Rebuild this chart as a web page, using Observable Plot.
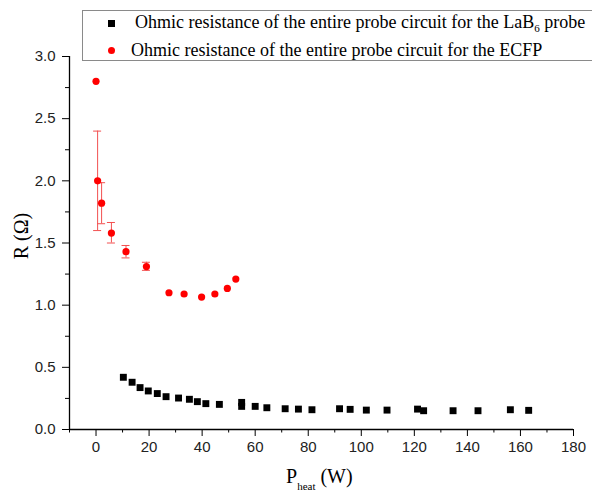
<!DOCTYPE html>
<html>
<head>
<meta charset="utf-8">
<script src="https://cdn.jsdelivr.net/npm/d3@7"></script>
<script src="https://cdn.jsdelivr.net/npm/@observablehq/plot@0.6"></script>
<style>
  html, body { margin: 0; padding: 0; background: white; }
  #wrap { position: relative; width: 592px; height: 493px; overflow: hidden; background: white; }
  #chart { position: absolute; left: 0; top: 0; }
  .serif { font-family: "Liberation Serif", "Times New Roman", Times, serif; color: #000; }
  #legend { position: absolute; left: 82px; top: 10px; width: 540px; height: 49px; border: 1px solid #8a8a8a; background: white; }
  .ltext { position: absolute; white-space: nowrap; font-size: 18px; line-height: 18px; }
  .ltext sub { font-size: 11px; vertical-align: -4px; line-height: 0; }
  #sq { position: absolute; left: 25px; top: 9px; width: 7px; height: 7px; background: #000; }
  #dotm { position: absolute; left: 25px; top: 36px; width: 7px; height: 7px; border-radius: 50%; background: #ff0000; }
  #xlabel { position: absolute; left: 286px; top: 465px; font-size: 20px; white-space: nowrap; }
  #xlabel sub { font-size: 11px; vertical-align: -7px; line-height: 0; }
  #ylabel { position: absolute; left: 21px; top: 236px; font-size: 20px; white-space: nowrap; transform: translate(-50%, -50%) rotate(-90deg); }
</style>
</head>
<body>
<div id="wrap">
  <div id="chart"></div>
  <div id="legend" class="serif">
    <div id="sq"></div>
    <div class="ltext" style="left:52px; top:2px;">Ohmic resistance of the entire probe circuit for the LaB<sub>6</sub> probe</div>
    <div id="dotm"></div>
    <div class="ltext" style="left:48px; top:30px;">Ohmic resistance of the entire probe circuit for the ECFP</div>
  </div>
  <div id="xlabel" class="serif">P<sub>heat</sub> (W)</div>
  <div id="ylabel" class="serif">R (Ω)</div>
</div>
<script>
// LaB6 probe (black squares)
const lab6X = [10.3, 13.6, 16.6, 19.7, 23.1, 26.4, 31.1, 35.2, 38.2, 41.4, 46.5, 54.9, 54.9, 60.0, 64.4, 71.3, 76.3, 81.4, 91.8, 95.8, 101.9, 109.7, 121.2, 123.5, 134.6, 144.0, 156.2, 163.1];
const lab6Y = [0.42, 0.38, 0.337, 0.31, 0.289, 0.264, 0.253, 0.243, 0.224, 0.208, 0.202, 0.218, 0.186, 0.186, 0.175, 0.167, 0.164, 0.159, 0.167, 0.162, 0.156, 0.156, 0.164, 0.151, 0.151, 0.151, 0.159, 0.154];

// ECFP (red circles) with error bars
const ecfpX = [0, 0.6, 2.1, 5.8, 11.3, 19.0, 27.5, 33.2, 39.8, 44.8, 49.5, 52.7];
const ecfpY = [2.80, 2.00, 1.82, 1.58, 1.43, 1.31, 1.10, 1.09, 1.065, 1.09, 1.135, 1.21];
const ecfpLo = [null, 1.60, 1.655, 1.50, 1.38, 1.28, null, null, null, null, null, null];
const ecfpHi = [null, 2.40, 1.985, 1.665, 1.48, 1.345, null, null, null, null, null, null];

const xMajor = [0, 20, 40, 60, 80, 100, 120, 140, 160, 180];
const xMinor = [-10, 10, 30, 50, 70, 90, 110, 130, 150, 170];
const yMajor = [0, 0.5, 1.0, 1.5, 2.0, 2.5, 3.0];
const yMinor = [0.25, 0.75, 1.25, 1.75, 2.25, 2.75];

const lab6 = lab6X.map((x, i) => ({x, y: lab6Y[i]}));
const ecfp = ecfpX.map((x, i) => ({x, y: ecfpY[i], lo: ecfpLo[i], hi: ecfpHi[i]}));
const ecfpErr = ecfp.filter(d => d.lo != null);

const errColor = "#f25050";

const chart = Plot.plot({
  width: 592,
  height: 493,
  marginLeft: 69,
  marginRight: 19,
  marginTop: 56,
  marginBottom: 64,
  x: {domain: [-10, 180], label: null},
  y: {domain: [0, 3], label: null},
  style: {fontFamily: "'Liberation Sans', Arial, sans-serif", fontSize: "15px", color: "#222", background: "transparent"},
  marks: [
    Plot.axisX({ticks: xMinor, tickSize: 3.5, tickFormat: () => "", label: null, stroke: "#000"}),
    Plot.axisX({ticks: xMajor, tickSize: 7, tickPadding: 5, tickFormat: d => String(d), label: null, stroke: "#000"}),
    Plot.axisY({ticks: yMinor, tickSize: 4, tickFormat: () => "", label: null, stroke: "#000"}),
    Plot.axisY({ticks: yMajor, tickSize: 7, tickPadding: 7, tickFormat: d3.format(".1f"), label: null, stroke: "#000"}),
    Plot.ruleY([0], {stroke: "#000", strokeWidth: 1.3}),
    Plot.ruleX([-10], {stroke: "#000", strokeWidth: 1.3}),
    Plot.ruleX(ecfpErr, {x: "x", y1: "lo", y2: "hi", stroke: errColor, strokeWidth: 1}),
    Plot.ruleY(ecfpErr, {y: "lo", x1: "x", x2: "x", insetLeft: -4, insetRight: -4, stroke: errColor, strokeWidth: 1}),
    Plot.ruleY(ecfpErr, {y: "hi", x1: "x", x2: "x", insetLeft: -4, insetRight: -4, stroke: errColor, strokeWidth: 1}),
    Plot.dot(lab6, {x: "x", y: "y", symbol: "square", r: 3.9, fill: "#000", stroke: "none"}),
    Plot.dot(ecfp, {x: "x", y: "y", symbol: "circle", r: 3.6, fill: "#ff0000", stroke: "none"})
  ]
});
document.getElementById("chart").appendChild(chart);
</script>
</body>
</html>
